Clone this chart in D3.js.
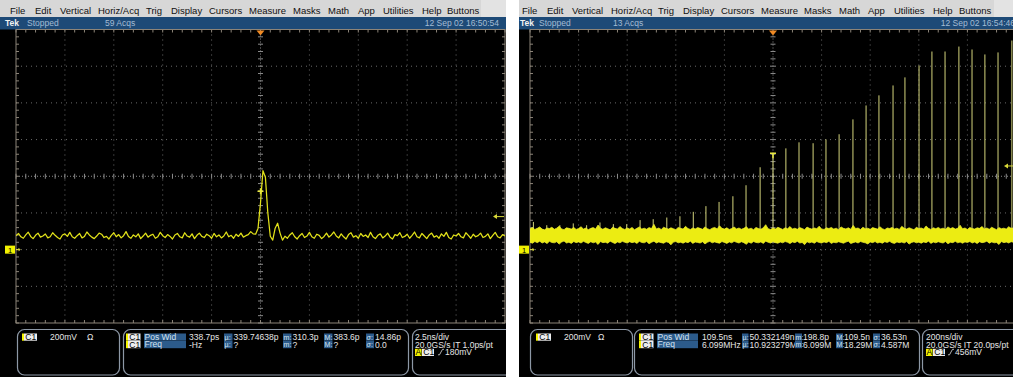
<!DOCTYPE html>
<html>
<head>
<meta charset="utf-8">
<script src="https://cdn.jsdelivr.net/npm/d3@7"></script>
<style>
  body { margin: 0; background: #fff; }
  svg { display: block; font-family: "Liberation Sans", Arial, Helvetica, sans-serif; }
</style>
</head>
<body>
<svg id="scope" width="1013" height="377"></svg>
<script>
// ---------- data ----------
const menuItems = ["File", "Edit", "Vertical", "Horiz/Acq", "Trig", "Display", "Cursors",
  "Measure", "Masks", "Math", "App", "Utilities", "Help", "Buttons"];

const statLabels = ["µ:", "m:", "M:", "σ:"];
const verticalScale = "200mV";

// Left capture: single pulse, 2.5 ns/div, samples every 0.125 ns from -12.5 ns (mV)
const leftT0 = -12.5, leftDt = 0.125;
const leftTrace = [
  75, 88, 70, 62, 80, 95, 72, 60, 78, 90, 68, 74, 85, 64, 70, 92, 78, 66, 58, 80,
  86, 72, 94, 70, 62, 76, 88, 64, 72, 96, 80, 68, 60, 74, 90, 84, 66, 72, 58, 78,
  92, 70, 82, 64, 76, 98, 72, 62, 80, 70, 86, 60, 74, 90, 68, 78, 84, 62, 70, 94,
  76, 66, 82, 72, 58, 80, 88, 70, 64, 92, 74, 68, 86, 60, 78, 90, 72, 66, 84, 76,
  62, 88, 70, 80, 64, 74, 96, 70, 78, 62, 84, 72, 90, 68, 76, 82, 98, 86,
  84, 117, 255, 430, 395, 200, 73, 52, 117, 144, 90, 52, 73,
  62, 80, 92, 70, 58, 76, 88, 66, 74, 94, 70, 62, 84, 78, 60, 72, 90, 68, 80, 96,
  74, 64, 86, 70, 58, 82, 92, 68, 76, 62, 88, 72, 80, 66, 94, 70, 60, 78, 86, 64,
  74, 90, 68, 58, 82, 76, 92, 66, 72, 84, 62, 78, 96, 70, 64, 88, 74, 60, 80, 90,
  68, 76, 62, 86, 72, 94, 66, 58, 80, 74, 88, 70, 64, 92, 78, 62, 84, 70, 76, 90,
  66, 72, 86, 60, 78, 94, 70, 64, 82, 74
];
const leftMarker = { t: 0.0, v: 318 };
const leftTrigLevel = 180;
const leftStatus = ["Stopped", "59 Acqs", "12 Sep 02 16:50:54"];
const leftMeasRows = [
  ["Pos Wid", "338.7ps", "339.74638p", "310.3p", "383.6p", "14.86p"],
  ["Freq", "-Hz", "?", "?", "?", "0.0"]
];
const leftTimebase = ["2.5ns/div", "20.0GS/s IT 1.0ps/pt", "180mV"];

// Right capture: pulse train, 200 ns/div; noise band envelope every 10 ns from -1000 ns (mV)
const bandT0 = -1000, bandDt = 10;
const bandUpper = [
  114, 120, 110, 116, 124, 112, 108, 118, 115, 122, 111, 117, 128, 113, 109, 119, 116, 112, 121, 110,
  115, 125, 112, 118, 109, 116, 120, 113, 134, 117, 111, 119, 114, 108, 122, 116, 112, 126, 115, 110,
  118, 113, 121, 109, 116, 124, 112, 117, 111, 120, 115, 138, 113, 118, 110, 122, 116, 112, 119, 114,
  109, 121, 116, 112, 127, 115, 110, 118, 113, 120, 116, 111, 124, 114, 109, 117, 121, 113, 130, 116,
  112, 119, 110, 115, 123, 113, 118, 111, 116, 125, 112, 117, 109, 121, 115, 111, 119, 136, 114, 110,
  118, 113, 122, 116, 110, 119, 114, 126, 112, 117, 111, 120, 115, 109, 123, 116, 112, 118, 114, 128,
  113, 110, 119, 115, 121, 112, 117, 109, 124, 116, 113, 119, 111, 132, 115, 118, 110, 122, 114, 117,
  111, 120, 116, 112, 125, 114, 109, 118, 115, 121, 113, 117, 110, 127, 116, 112, 119, 114, 108, 122,
  115, 118, 112, 129, 116, 110, 119, 114, 121, 113, 117, 111, 124, 115, 120, 112, 116, 133, 114, 118,
  110, 121, 115, 112, 119, 116, 126, 113, 118, 111, 122, 115, 109, 120, 114, 117, 112, 125, 116, 119,
  114
];
const bandLower = [
  40, 35, 44, 38, 46, 36, 42, 33, 45, 39, 37, 43, 30, 41, 47, 36, 40, 34, 44, 38,
  42, 36, 45, 39, 34, 43, 37, 41, 28, 44, 38, 40, 35, 46, 39, 33, 42, 37, 45, 40,
  36, 43, 38, 41, 34, 45, 39, 37, 44, 32, 40, 46, 36, 42, 38, 35, 43, 39, 26, 41,
  44, 37, 40, 35, 42, 38, 46, 34, 41, 39, 36, 43, 31, 40, 45, 37, 42, 38, 35, 44,
  39, 34, 42, 37, 45, 40, 36, 43, 38, 29, 41, 35, 44, 39, 37, 42, 34, 46, 40, 36,
  43, 38, 35, 41, 37, 44, 40, 33, 42, 38, 45, 36, 39, 27, 43, 37, 41, 35, 44, 39,
  36, 42, 38, 45, 34, 40, 37, 43, 39, 35, 41, 46, 33, 38, 42, 36, 44, 40, 37, 31,
  41, 38, 44, 36, 40, 35, 43, 39, 45, 37, 34, 42, 38, 41, 36, 44, 30, 39, 43, 37,
  40, 35, 42, 38, 46, 34, 41, 37, 43, 39, 36, 44, 32, 40, 38, 45, 37, 41, 35, 42,
  39, 44, 36, 41, 33, 43, 38, 40, 46, 35, 42, 37, 39, 28, 44, 38, 41, 36, 43, 40,
  38
];
const spikeTimes = [-986, -931, -877, -822, -767, -712, -657, -602, -547, -493, -437, -383,
  -328, -276, -222, -165, -111, -53, 0, 53, 107, 165, 218, 272, 329, 383, 436, 494, 543,
  601, 654, 708, 765, 819, 872, 926, 983];
const spikePeaks = [151, 133, 133, 143, 133, 148, 139, 139, 161, 166, 175, 182,
  206, 237, 260, 291, 351, 449, 525, 552, 585, 580, 601, 629, 710, 786, 841, 895, 939,
  1004, 1080, 1080, 1107, 1091, 1064, 1075, 1140];
const spikeBase = 80;
const rightMarker = { t: 0, v: 525 };
const rightTrigLevel = 456;
const rightStatus = ["Stopped", "13 Acqs", "12 Sep 02 16:54:46"];
const rightMeasRows = [
  ["Pos Wid", "109.5ns", "50.332149n", "198.8p", "109.5n", "36.53n"],
  ["Freq", "6.099MHz", "10.923279M", "6.099M", "18.29M", "4.587M"]
];
const rightTimebase = ["200ns/div", "20.0GS/s IT 20.0ps/pt", "456mV"];

// ---------- layout ----------
const panels = [
  {
    id: "L", x0: 0, w: 506, gl: 16, gr: 505, tPerDiv: 2.5,
    menuX: [10, 35, 60, 98, 146, 171, 209, 249, 293, 328, 358, 383, 422, 447], menuLight: 481,
    tekX: 5, stoppedX: 27, acqX: 105, dateEnd: 499,
    status: leftStatus, trig: leftTrigLevel, marker: leftMarker, markerShape: "plus",
    boxes: [[17, 119], [123, 408], [412, 520]],
    ch: { bar: 22, c1: 24, scale: 50, ohm: 87 },
    meas: { bar: 126, c1: 128, lab: 144, labW: 42, val: 189,
            cols: [[224, 233.5], [283, 292.5], [324, 333.5], [366, 375]] },
    rows: leftMeasRows,
    hz: { x: 415, a: 415, c1: 422, edge: 438, lvl: 445 }, timebase: leftTimebase
  },
  {
    id: "R", x0: 519, w: 494, gl: 530, gr: 1016, tPerDiv: 200,
    menuX: [522, 547, 572, 611, 658, 683, 721, 761, 804, 839, 868, 894, 933, 959], menuLight: 994,
    tekX: 520, stoppedX: 539, acqX: 613, dateEnd: 1015,
    status: rightStatus, trig: rightTrigLevel, marker: rightMarker, markerShape: "tee",
    boxes: [[530, 632], [634, 919], [922, 1030]],
    ch: { bar: 536, c1: 538, scale: 564, ohm: 598 },
    meas: { bar: 639, c1: 641, lab: 657, labW: 41, val: 702,
            cols: [[742, 749.5], [795, 803], [836, 844], [873, 881]] },
    rows: rightMeasRows,
    hz: { x: 926, a: 926, c1: 933, edge: 948, lvl: 955 }, timebase: rightTimebase
  }
];

const svg = d3.select("#scope");
const defs = svg.append("defs");

const GRAT_TOP = 29.5, GRAT_BOT = 323;
const TRACE = "#e2e21a";
const ROW_Y = [340, 347.5, 355.3];
const FS = 8.5;      // readout text
const FS_TAG = 7;    // statistic tags (µ: m: M: σ:)

function drawPanel(p) {
  defs.append("clipPath").attr("id", "panel" + p.id)
    .append("rect").attr("x", p.x0).attr("y", 0).attr("width", p.w).attr("height", 377);
  defs.append("clipPath").attr("id", "grat" + p.id)
    .append("rect").attr("x", p.gl).attr("y", GRAT_TOP).attr("width", p.gr - p.gl).attr("height", GRAT_BOT - GRAT_TOP);

  const g = svg.append("g").attr("clip-path", `url(#panel${p.id})`);

  // screen
  g.append("rect").attr("x", p.x0).attr("y", 0).attr("width", p.w).attr("height", 377).attr("fill", "#000");

  // menu bar
  g.append("rect").attr("x", p.x0).attr("y", 0).attr("width", p.w).attr("height", 17).attr("fill", "#d7d7d7");
  g.append("rect").attr("x", p.menuLight).attr("y", 0).attr("width", p.x0 + p.w - p.menuLight).attr("height", 17).attr("fill", "#e3e3e3");
  g.selectAll("text.menu").data(menuItems).join("text")
    .attr("class", "menu")
    .attr("x", (d, i) => p.menuX[i]).attr("y", 13.5)
    .attr("font-size", 9.5).attr("fill", "#111").text(d => d);

  // status bar
  g.append("rect").attr("x", p.x0).attr("y", 17).attr("width", p.w).attr("height", 12.5).attr("fill", "#1d4a77");
  g.append("text").attr("x", p.tekX).attr("y", 26.3).attr("font-size", 8.5).attr("font-weight", "bold")
    .attr("fill", "#f2f2f2").text("Tek");
  g.append("text").attr("x", p.stoppedX).attr("y", 26.3).attr("font-size", 8.5).attr("fill", "#a4bcd4").text(p.status[0]);
  g.append("text").attr("x", p.acqX).attr("y", 26.3).attr("font-size", 8.5).attr("fill", "#a4bcd4").text(p.status[1]);
  g.append("text").attr("x", p.dateEnd).attr("y", 26.3).attr("font-size", 8.5).attr("text-anchor", "end")
    .attr("fill", "#a4bcd4").text(p.status[2]);

  // scales
  const x = d3.scaleLinear().domain([-5 * p.tPerDiv, 5 * p.tPerDiv]).range([p.gl, p.gr]);
  const y = d3.scaleLinear().domain([-400, 1200]).range([GRAT_BOT, GRAT_TOP]);
  const vDiv = 200;

  // graticule
  const grid = g.append("g");
  const majorT = d3.range(-4, 5).filter(k => k !== 0).map(k => k * p.tPerDiv);
  const majorV = d3.range(-1, 6).filter(k => k !== 2).map(k => k * vDiv);
  grid.selectAll("line.vt").data(majorT).join("line")
    .attr("x1", d => x(d)).attr("x2", d => x(d)).attr("y1", GRAT_TOP).attr("y2", GRAT_BOT)
    .attr("stroke", "#6a6a6a").attr("stroke-width", 1).attr("stroke-dasharray", "1,4");
  grid.selectAll("line.hv").data(majorV).join("line")
    .attr("y1", d => y(d)).attr("y2", d => y(d)).attr("x1", p.gl).attr("x2", p.gr)
    .attr("stroke", "#6a6a6a").attr("stroke-width", 1).attr("stroke-dasharray", "1,4");

  // centre cross
  const cx = x(0), cy = y(400);
  grid.append("line").attr("x1", cx).attr("x2", cx).attr("y1", GRAT_TOP).attr("y2", GRAT_BOT)
    .attr("stroke", "#8a8a8a").attr("stroke-dasharray", "1,2");
  grid.append("line").attr("y1", cy).attr("y2", cy).attr("x1", p.gl).attr("x2", p.gr)
    .attr("stroke", "#8a8a8a").attr("stroke-dasharray", "1,2");

  const minorT = d3.range(-25, 26).map(k => k * p.tPerDiv / 5);
  const minorV = d3.range(-10, 31).map(k => k * vDiv / 5);
  const tickColor = "#8c8478";
  // ticks on centre lines
  grid.selectAll("line.ct").data(minorT).join("line")
    .attr("x1", d => x(d)).attr("x2", d => x(d)).attr("y1", cy - 2.5).attr("y2", cy + 2.5)
    .attr("stroke", "#8a8a8a");
  grid.selectAll("line.cv").data(minorV).join("line")
    .attr("y1", d => y(d)).attr("y2", d => y(d)).attr("x1", cx - 2.5).attr("x2", cx + 2.5)
    .attr("stroke", "#8a8a8a");
  // ticks on the border
  grid.selectAll("line.bt").data(minorT).join("line")
    .attr("x1", d => x(d)).attr("x2", d => x(d)).attr("y1", GRAT_TOP).attr("y2", GRAT_TOP + 3)
    .attr("stroke", tickColor);
  grid.selectAll("line.bb").data(minorT).join("line")
    .attr("x1", d => x(d)).attr("x2", d => x(d)).attr("y1", GRAT_BOT - 3).attr("y2", GRAT_BOT)
    .attr("stroke", tickColor);
  grid.selectAll("line.bl").data(minorV).join("line")
    .attr("y1", d => y(d)).attr("y2", d => y(d)).attr("x1", p.gl).attr("x2", p.gl + 3)
    .attr("stroke", tickColor);
  grid.selectAll("line.br").data(minorV).join("line")
    .attr("y1", d => y(d)).attr("y2", d => y(d)).attr("x1", p.gr - 3).attr("x2", p.gr)
    .attr("stroke", tickColor);
  grid.append("rect").attr("x", p.gl).attr("y", GRAT_TOP).attr("width", p.gr - p.gl).attr("height", GRAT_BOT - GRAT_TOP)
    .attr("fill", "none").attr("stroke", tickColor).attr("stroke-width", 1);

  // waveform layer
  const wave = g.append("g").attr("clip-path", `url(#grat${p.id})`);
  if (p.id === "L") {
    const line = d3.line().x((d, i) => x(leftT0 + i * leftDt)).y(d => y(d));
    wave.append("path").datum(leftTrace).attr("d", line)
      .attr("fill", "none").attr("stroke", TRACE).attr("stroke-width", 1.25).attr("stroke-linejoin", "round");
  } else {
    wave.selectAll("line.spike").data(spikeTimes).join("line")
      .attr("x1", d => x(d)).attr("x2", d => x(d))
      .attr("y1", y(spikeBase)).attr("y2", (d, i) => y(spikePeaks[i]))
      .attr("stroke", "#d4d47c").attr("stroke-width", 1);
    const area = d3.area()
      .x((d, i) => x(bandT0 + i * bandDt))
      .y0((d, i) => y(bandLower[i]))
      .y1(d => y(d));
    wave.append("path").datum(bandUpper).attr("d", area)
      .attr("fill", "#ecec12").attr("stroke", "#f2f236").attr("stroke-width", 0.7);
  }

  // trace marker (plus / tee)
  const mx = x(p.marker.t), my = y(p.marker.v);
  const mpath = p.markerShape === "plus"
    ? `M${mx - 3},${my}H${mx + 3}M${mx},${my - 3}V${my + 3}`
    : `M${mx - 3},${my}H${mx + 3}M${mx},${my}V${my + 5}`;
  g.append("path").attr("d", mpath).attr("stroke", "#e8e840").attr("stroke-width", 1.4).attr("fill", "none");

  // trigger position marker
  g.append("path")
    .attr("d", `M${cx - 4},${GRAT_TOP + 1}H${cx + 4}L${cx},${GRAT_TOP + 6}Z`)
    .attr("fill", "#f08a24");

  // trigger level arrow
  const ty = y(p.trig);
  g.append("path").attr("d", `M${p.gr - 12},${ty}L${p.gr - 8},${ty - 2.5}V${ty + 2.5}Z`).attr("fill", "#d8d838");
  g.append("line").attr("x1", p.gr - 9).attr("x2", p.gr - 1).attr("y1", ty).attr("y2", ty)
    .attr("stroke", "#d8d838").attr("stroke-width", 1);

  // channel ground marker
  const gy = y(0);
  g.append("rect").attr("x", p.gl - 11).attr("y", gy - 4).attr("width", 10).attr("height", 8).attr("fill", "#f2f200");
  g.append("text").attr("x", p.gl - 6).attr("y", gy + 3).attr("text-anchor", "middle")
    .attr("font-size", 7.5).attr("fill", "#000").text("1");
  g.append("path").attr("d", `M${p.gl},${gy}H${p.gl + 4}M${p.gl + 2.5},${gy - 1.5}L${p.gl + 4},${gy}L${p.gl + 2.5},${gy + 1.5}`)
    .attr("stroke", "#e8e840").attr("fill", "none").attr("stroke-width", 0.9);

  // readout boxes
  g.selectAll("rect.box").data(p.boxes).join("rect")
    .attr("x", d => d[0] + 0.5).attr("y", 329.5).attr("width", d => d[1] - d[0]).attr("height", 45.5)
    .attr("rx", 7).attr("fill", "none").attr("stroke", "#8d98a6").attr("stroke-width", 1.2);

  const chanTag = (bx, row) => {
    const by = ROW_Y[row];
    g.append("rect").attr("x", bx).attr("y", by - 6.5).attr("width", 2).attr("height", 7.2).attr("fill", "#f4f400");
  };
  const whiteTag = (bx, w, by, txt) => {
    g.append("rect").attr("x", bx).attr("y", by - 6.5).attr("width", w).attr("height", 7.2).attr("fill", "#ededed");
    g.append("text").attr("x", bx + 1.3).attr("y", by).attr("font-size", FS).attr("fill", "#000").text(txt);
  };
  const blueTag = (bx, w, by, txt, size) => {
    g.append("rect").attr("x", bx).attr("y", by - 6.5).attr("width", w).attr("height", 7.2).attr("fill", "#2c5b8b");
    g.append("text").attr("x", bx + 0.6).attr("y", by - 0.3).attr("font-size", size).attr("fill", "#d5e2ef").text(txt);
  };
  const value = (vx, by, txt) => {
    g.append("text").attr("x", vx).attr("y", by).attr("font-size", FS).attr("fill", "#e6e6e6").text(txt);
  };

  // channel box
  chanTag(p.ch.bar, 0);
  whiteTag(p.ch.c1, 13, ROW_Y[0], "C1");
  value(p.ch.scale, ROW_Y[0], verticalScale);
  value(p.ch.ohm, ROW_Y[0], "Ω");

  // measurement box
  p.rows.forEach((row, r) => {
    const by = ROW_Y[r];
    chanTag(p.meas.bar, r);
    whiteTag(p.meas.c1, 12.5, by, "C1");
    blueTag(p.meas.lab, p.meas.labW, by, row[0], FS);
    value(p.meas.val, by, row[1]);
    p.meas.cols.forEach((c, k) => {
      blueTag(c[0], c[1] - c[0] - 1, by, statLabels[k], FS_TAG);
      value(c[1], by, row[k + 2]);
    });
  });

  // timebase / trigger box
  value(p.hz.x, ROW_Y[0], p.timebase[0]);
  value(p.hz.x, ROW_Y[1], p.timebase[1]);
  const r3 = ROW_Y[2];
  g.append("rect").attr("x", p.hz.a).attr("y", r3 - 6.5).attr("width", 6.5).attr("height", 7.2).attr("fill", "#f2f200");
  g.append("text").attr("x", p.hz.a + 0.5).attr("y", r3).attr("font-size", FS).attr("fill", "#000").text("A");
  whiteTag(p.hz.c1, 12, r3, "C1");
  g.append("path").attr("d", `M${p.hz.edge},${r3 - 0.5}h1.5l3,-5.5h1.5`)
    .attr("stroke", "#e0e0e0").attr("stroke-width", 0.8).attr("fill", "none");
  value(p.hz.lvl, r3, p.timebase[2]);
}

panels.forEach(drawPanel);
</script>
</body>
</html>
